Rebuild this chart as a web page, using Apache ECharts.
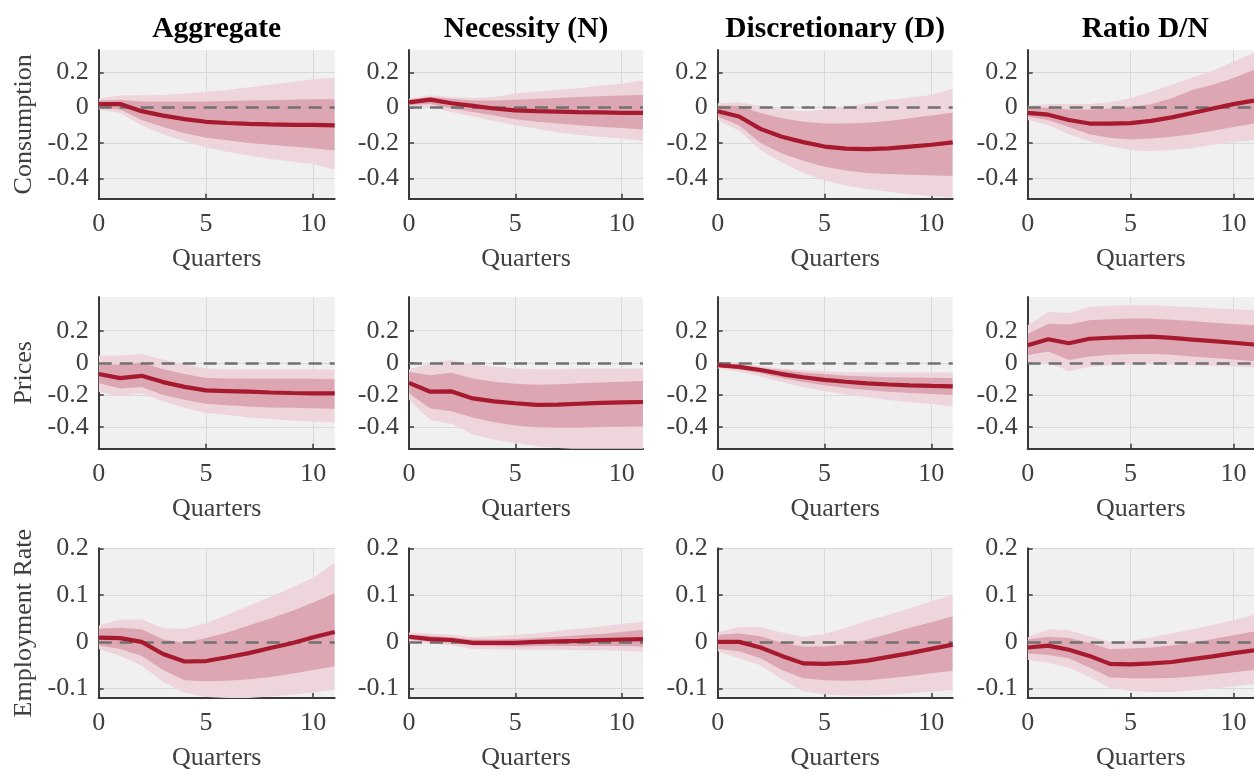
<!DOCTYPE html>
<html>
<head>
<meta charset="utf-8">
<title>Impulse responses</title>
<script src="https://cdn.jsdelivr.net/npm/echarts@6/dist/echarts.min.js"></script>
<style>
  html, body { margin: 0; padding: 0; background: #ffffff; }
  #chart { width: 1254px; height: 772px; }
</style>
</head>
<body>
<div id="chart"></div>
<script>
// Horizon (quarters after the shock)
const quarters = [0, 1, 2, 3, 4, 5, 6, 7, 8, 9, 10, 11];

const columnTitles = ['Aggregate', 'Necessity (N)', 'Discretionary (D)', 'Ratio D/N'];
const rowNames = ['Consumption', 'Prices', 'Employment Rate'];
const xTicks = [0, 5, 10];
const yTicksWide = [-0.4, -0.2, 0, 0.2];
const yTicksEmp = [-0.1, 0, 0.1, 0.2];

// Each response: median, inner band (lo/hi) and outer band (lo/hi)
const consAggregate = {
  med:   [0.02, 0.02, -0.02, -0.045, -0.065, -0.08, -0.087, -0.092, -0.095, -0.097, -0.098, -0.10],
  inLo:  [0.0, -0.01, -0.07, -0.11, -0.145, -0.17, -0.185, -0.2, -0.21, -0.22, -0.23, -0.242],
  inHi:  [0.04, 0.045, 0.035, 0.035, 0.035, 0.035, 0.037, 0.04, 0.042, 0.045, 0.047, 0.048],
  outLo: [-0.01, -0.03, -0.10, -0.15, -0.19, -0.225, -0.25, -0.27, -0.29, -0.305, -0.32, -0.35],
  outHi: [0.05, 0.07, 0.07, 0.072, 0.08, 0.09, 0.10, 0.115, 0.13, 0.145, 0.16, 0.17]
};
const consNecessity = {
  med:   [0.03, 0.045, 0.025, 0.01, -0.005, -0.015, -0.02, -0.022, -0.025, -0.027, -0.03, -0.03],
  inLo:  [0.015, 0.02, -0.005, -0.025, -0.045, -0.065, -0.08, -0.09, -0.1, -0.108, -0.115, -0.124],
  inHi:  [0.045, 0.06, 0.05, 0.04, 0.04, 0.045, 0.05, 0.055, 0.06, 0.065, 0.068, 0.072],
  outLo: [0.01, 0.005, -0.025, -0.05, -0.075, -0.1, -0.12, -0.14, -0.155, -0.165, -0.175, -0.189],
  outHi: [0.05, 0.07, 0.06, 0.055, 0.06, 0.08, 0.09, 0.10, 0.11, 0.125, 0.135, 0.154]
};
const consDiscretionary = {
  med:   [-0.02, -0.05, -0.12, -0.165, -0.195, -0.22, -0.232, -0.235, -0.23, -0.22, -0.21, -0.196],
  inLo:  [-0.05, -0.1, -0.2, -0.26, -0.3, -0.335, -0.355, -0.37, -0.375, -0.38, -0.383, -0.387],
  inHi:  [0.01, 0.01, -0.03, -0.06, -0.08, -0.09, -0.09, -0.085, -0.075, -0.06, -0.045, -0.029],
  outLo: [-0.07, -0.13, -0.24, -0.31, -0.37, -0.41, -0.44, -0.46, -0.475, -0.49, -0.5, -0.51],
  outHi: [0.025, 0.03, 0.01, -0.01, -0.02, -0.012, 0.005, 0.025, 0.044, 0.058, 0.072, 0.105]
};
const consRatio = {
  med:   [-0.03, -0.04, -0.07, -0.09, -0.09, -0.088, -0.075, -0.055, -0.03, -0.005, 0.02, 0.04],
  inLo:  [-0.05, -0.07, -0.11, -0.15, -0.17, -0.18, -0.175, -0.165, -0.15, -0.13, -0.11, -0.09],
  inHi:  [0.0, 0.0, -0.01, -0.01, -0.005, 0.005, 0.019, 0.053, 0.10, 0.13, 0.168, 0.215],
  outLo: [-0.07, -0.1, -0.15, -0.19, -0.22, -0.24, -0.245, -0.24, -0.23, -0.21, -0.195, -0.185],
  outHi: [0.01, 0.02, 0.02, 0.02, 0.03, 0.053, 0.09, 0.13, 0.17, 0.21, 0.26, 0.31]
};
const priceAggregate = {
  med:   [-0.07, -0.095, -0.081, -0.12, -0.15, -0.172, -0.176, -0.18, -0.185, -0.188, -0.19, -0.19],
  inLo:  [-0.125, -0.16, -0.15, -0.2, -0.23, -0.255, -0.265, -0.272, -0.278, -0.28, -0.283, -0.286],
  inHi:  [-0.014, -0.01, 0.0, -0.04, -0.07, -0.095, -0.098, -0.1, -0.1, -0.1, -0.1, -0.103],
  outLo: [-0.18, -0.21, -0.19, -0.24, -0.28, -0.313, -0.325, -0.34, -0.35, -0.36, -0.365, -0.373],
  outHi: [0.045, 0.045, 0.055, 0.02, -0.01, -0.035, -0.04, -0.04, -0.04, -0.04, -0.04, -0.041]
};
const priceNecessity = {
  med:   [-0.125, -0.18, -0.178, -0.222, -0.24, -0.252, -0.262, -0.26, -0.255, -0.25, -0.247, -0.244],
  inLo:  [-0.19, -0.284, -0.302, -0.34, -0.37, -0.39, -0.402, -0.404, -0.404, -0.4, -0.398, -0.397],
  inHi:  [-0.056, -0.077, -0.062, -0.097, -0.118, -0.13, -0.137, -0.133, -0.128, -0.122, -0.118, -0.114],
  outLo: [-0.23, -0.356, -0.38, -0.445, -0.48, -0.5, -0.52, -0.53, -0.54, -0.54, -0.54, -0.54],
  outHi: [-0.04, -0.005, 0.017, -0.01, -0.025, -0.035, -0.04, -0.04, -0.035, -0.035, -0.035, -0.035]
};
const priceDiscretionary = {
  med:   [-0.015, -0.025, -0.045, -0.07, -0.09, -0.106, -0.118, -0.128, -0.135, -0.14, -0.144, -0.147],
  inLo:  [-0.025, -0.04, -0.065, -0.095, -0.12, -0.14, -0.157, -0.17, -0.18, -0.188, -0.194, -0.2],
  inHi:  [-0.005, -0.01, -0.03, -0.045, -0.06, -0.07, -0.08, -0.085, -0.09, -0.092, -0.093, -0.094],
  outLo: [-0.035, -0.055, -0.085, -0.12, -0.15, -0.175, -0.197, -0.215, -0.232, -0.245, -0.257, -0.27],
  outHi: [0.0, 0.005, -0.02, -0.035, -0.045, -0.053, -0.058, -0.06, -0.06, -0.06, -0.06, -0.058]
};
const priceRatio = {
  med:   [0.11, 0.147, 0.122, 0.15, 0.156, 0.16, 0.163, 0.155, 0.145, 0.135, 0.125, 0.114],
  inLo:  [0.048, 0.07, 0.017, 0.04, 0.05, 0.055, 0.055, 0.05, 0.04, 0.03, 0.02, 0.01],
  inHi:  [0.18, 0.244, 0.238, 0.265, 0.272, 0.276, 0.275, 0.268, 0.26, 0.25, 0.242, 0.234],
  outLo: [0.0, 0.0, -0.052, -0.025, -0.015, -0.01, -0.01, -0.012, -0.015, -0.018, -0.022, -0.029],
  outHi: [0.234, 0.317, 0.31, 0.348, 0.356, 0.358, 0.358, 0.352, 0.347, 0.34, 0.334, 0.327]
};
const emplAggregate = {
  med:   [0.009, 0.008, 0.0, -0.026, -0.042, -0.041, -0.033, -0.024, -0.013, -0.003, 0.01, 0.021],
  inLo:  [-0.008, -0.015, -0.03, -0.06, -0.082, -0.084, -0.083, -0.08, -0.075, -0.068, -0.06, -0.052],
  inHi:  [0.028, 0.03, 0.027, 0.005, -0.002, 0.008, 0.02, 0.035, 0.05, 0.066, 0.084, 0.104],
  outLo: [-0.015, -0.03, -0.051, -0.085, -0.109, -0.118, -0.12, -0.12, -0.117, -0.113, -0.108, -0.102],
  outHi: [0.035, 0.048, 0.048, 0.029, 0.028, 0.04, 0.058, 0.077, 0.096, 0.116, 0.137, 0.169]
};
const emplNecessity = {
  med:   [0.011, 0.006, 0.004, -0.002, -0.002, -0.002, 0.0, 0.001, 0.002, 0.004, 0.005, 0.006],
  inLo:  [0.005, 0.0, -0.003, -0.008, -0.009, -0.01, -0.009, -0.009, -0.009, -0.009, -0.009, -0.01],
  inHi:  [0.015, 0.013, 0.01, 0.005, 0.005, 0.006, 0.008, 0.011, 0.014, 0.017, 0.021, 0.026],
  outLo: [0.0, -0.004, -0.008, -0.015, -0.016, -0.017, -0.017, -0.017, -0.018, -0.018, -0.019, -0.021],
  outHi: [0.02, 0.018, 0.015, 0.01, 0.012, 0.015, 0.018, 0.023, 0.028, 0.033, 0.038, 0.043]
};
const emplDiscretionary = {
  med:   [0.0, 0.0, -0.012, -0.03, -0.046, -0.047, -0.045, -0.04, -0.032, -0.024, -0.015, -0.006],
  inLo:  [-0.015, -0.02, -0.035, -0.06, -0.078, -0.082, -0.083, -0.082, -0.078, -0.073, -0.067, -0.062],
  inHi:  [0.015, 0.018, 0.012, -0.002, -0.01, -0.01, -0.005, 0.005, 0.017, 0.03, 0.042, 0.055],
  outLo: [-0.02, -0.035, -0.05, -0.08, -0.106, -0.112, -0.115, -0.115, -0.113, -0.11, -0.106, -0.103],
  outHi: [0.02, 0.032, 0.032, 0.02, 0.011, 0.017, 0.03, 0.045, 0.058, 0.072, 0.087, 0.1]
};
const emplRatio = {
  med:   [-0.012, -0.008, -0.017, -0.03, -0.047, -0.048, -0.046, -0.043, -0.037, -0.031, -0.024, -0.018],
  inLo:  [-0.025, -0.028, -0.035, -0.055, -0.076, -0.078, -0.078, -0.077, -0.074, -0.07, -0.065, -0.06],
  inHi:  [0.005, 0.011, 0.008, -0.002, -0.016, -0.014, -0.012, -0.008, -0.002, 0.006, 0.014, 0.022],
  outLo: [-0.038, -0.045, -0.055, -0.075, -0.099, -0.105, -0.107, -0.107, -0.104, -0.1, -0.095, -0.09],
  outHi: [0.01, 0.027, 0.025, 0.012, 0.0, 0.002, 0.01, 0.018, 0.027, 0.036, 0.046, 0.058]
};

const panels = [
  [consAggregate, consNecessity, consDiscretionary, consRatio],
  [priceAggregate, priceNecessity, priceDiscretionary, priceRatio],
  [emplAggregate, emplNecessity, emplDiscretionary, emplRatio]
];

// Vertical ranges per row
const yRanges = [[-0.515, 0.326], [-0.535, 0.41], [-0.12, 0.2]];
const yTicksByRow = [yTicksWide, yTicksWide, yTicksEmp];

// Plot box placement (px)
const colLeft = [98.7, 409, 717.7, 1027.7];
const colWidth = [236, 234, 235, 235];
const rowTop = [50, 297, 548.3];
const rowHeight = [148.7, 151.7, 150.4];

const FONT = '"Liberation Serif", "Times New Roman", serif';
const LINE = '#a6192e';
const INNER = '#dca6b2';
const OUTER = '#eed4db';
const BG = '#f0f0f0';
const TEXT = '#404040';
const AXIS = '#3a3a3a';

const grids = [], xAxes = [], yAxes = [], series = [], titles = [];

const pair = (arr) => quarters.map((q, k) => [q, arr[k]]);
const bandRows = (lo, hi) => quarters.map((q, k) => [q, lo[k], hi[k]]);

// Filled band between lower and upper bounds, drawn as one polygon per panel
function bandRenderer(color) {
  return function (params, api) {
    if (params.dataIndexInside !== 0) return null;
    const n = params.dataInsideLength;
    const upper = [], lower = [];
    for (let i = 0; i < n; i++) {
      const q = api.value(0, i);
      lower.push(api.coord([q, api.value(1, i)]));
      upper.push(api.coord([q, api.value(2, i)]));
    }
    const cs = params.coordSys;
    return {
      type: 'polygon',
      shape: { points: lower.concat(upper.reverse()) },
      style: { fill: color, stroke: null },
      clipPath: { type: 'rect', shape: { x: cs.x, y: cs.y, width: cs.width, height: cs.height } },
      silent: true
    };
  };
}

for (let c = 0; c < 4; c++) {
  titles.push({
    text: columnTitles[c],
    left: colLeft[c] + colWidth[c] / 2,
    top: 14,
    padding: 0,
    textAlign: 'center',
    textStyle: { fontFamily: FONT, fontWeight: 'bold', fontSize: 29.5, color: '#000' }
  });
}

for (let r = 0; r < 3; r++) {
  for (let c = 0; c < 4; c++) {
    const idx = r * 4 + c;
    const p = panels[r][c];
    grids.push({
      left: colLeft[c], top: rowTop[r], width: colWidth[c], height: rowHeight[r],
      show: true, backgroundColor: BG, borderWidth: 0, containLabel: false
    });
    xAxes.push({
      type: 'value', gridIndex: idx, min: 0, max: 11,
      name: 'Quarters', nameLocation: 'middle', nameGap: 47,
      nameTextStyle: { fontFamily: FONT, fontSize: 26, color: TEXT },
      axisLine: { show: true, onZero: false, lineStyle: { color: AXIS, width: 2 } },
      axisTick: { show: true, inside: true, length: 5, customValues: xTicks, lineStyle: { color: AXIS, width: 1.5 } },
      axisLabel: { customValues: xTicks, fontFamily: FONT, fontSize: 26, color: TEXT, margin: 12 },
      splitLine: { show: true, lineStyle: { color: '#d9d9d9', width: 1 } }
    });
    yAxes.push({
      type: 'value', gridIndex: idx, min: yRanges[r][0], max: yRanges[r][1],
      name: c === 0 ? rowNames[r] : '', nameLocation: 'middle', nameGap: 62, nameRotate: 90,
      nameTextStyle: { fontFamily: FONT, fontSize: 26, color: TEXT },
      axisLine: { show: true, onZero: false, lineStyle: { color: AXIS, width: 2 } },
      axisTick: { show: true, inside: true, length: 5, customValues: yTicksByRow[r], lineStyle: { color: AXIS, width: 1.5 } },
      axisLabel: { customValues: yTicksByRow[r], fontFamily: FONT, fontSize: 26, color: TEXT, margin: 10,
                   formatter: (v) => String(Math.round(v * 10) / 10) },
      splitLine: { show: true, lineStyle: { color: '#d9d9d9', width: 1 } }
    });

    // outer and inner credible bands
    series.push({
      type: 'custom', xAxisIndex: idx, yAxisIndex: idx, silent: true, animation: false,
      data: bandRows(p.outLo, p.outHi), encode: { x: 0, y: [1, 2] },
      renderItem: bandRenderer(OUTER), z: 1
    });
    series.push({
      type: 'custom', xAxisIndex: idx, yAxisIndex: idx, silent: true, animation: false,
      data: bandRows(p.inLo, p.inHi), encode: { x: 0, y: [1, 2] },
      renderItem: bandRenderer(INNER), z: 2
    });
    // zero reference line and median response
    series.push({
      type: 'line', xAxisIndex: idx, yAxisIndex: idx, silent: true, animation: false,
      showSymbol: false, symbol: 'none', clip: true, z: 4,
      data: pair(p.med),
      lineStyle: { color: LINE, width: 4.2 },
      markLine: {
        silent: true, symbol: 'none', animation: false, z: 3,
        label: { show: false },
        lineStyle: { type: [13, 8], color: '#707070', width: 2.5 },
        data: [{ yAxis: 0 }]
      }
    });
  }
}

const chart = echarts.init(document.getElementById('chart'), null, { renderer: 'canvas' });
chart.setOption({
  backgroundColor: '#ffffff',
  animation: false,
  textStyle: { fontFamily: FONT },
  title: titles,
  grid: grids,
  xAxis: xAxes,
  yAxis: yAxes,
  series: series
});
</script>
</body>
</html>
